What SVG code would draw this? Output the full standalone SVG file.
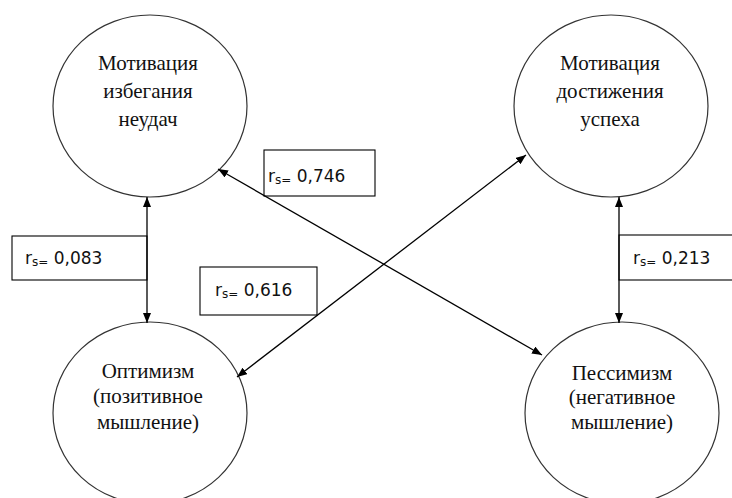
<svg xmlns="http://www.w3.org/2000/svg" width="732" height="498" viewBox="0 0 732 498">
<style>
.node ellipse{fill:#fff;stroke:#333;stroke-width:1.2}
.nt{font-family:"Liberation Serif","Times New Roman",serif;font-size:21px;fill:#111;text-anchor:middle}
.conn line{stroke:#000;stroke-width:1.3;fill:none}
.lbl rect{fill:#fff;stroke:#000;stroke-width:1.1}
.lt{font-family:"DejaVu Sans","Open Sans",sans-serif;font-size:17px;fill:#111}
.sub{font-size:12px}
</style>
<defs>
<marker id="ah" viewBox="0 0 10 8" refX="10" refY="4" markerWidth="10" markerHeight="8" markerUnits="userSpaceOnUse" orient="auto-start-reverse">
<path d="M0,0 L10,4 L0,8 z" fill="#000"/>
</marker>
</defs>
<rect width="732" height="498" fill="#fff"/>
<g id="n-avoid" class="node">
<ellipse cx="150" cy="106" rx="97" ry="91"/>
<text class="nt"><tspan x="148" y="70">Мотивация</tspan><tspan x="148" y="98">избегания</tspan><tspan x="148" y="126">неудач</tspan></text>
</g>
<g id="n-achieve" class="node">
<ellipse cx="611" cy="106" rx="97" ry="91"/>
<text class="nt"><tspan x="610" y="70">Мотивация</tspan><tspan x="610" y="98">достижения</tspan><tspan x="610" y="126">успеха</tspan></text>
</g>
<g id="n-optimism" class="node">
<ellipse cx="150" cy="413" rx="97" ry="91"/>
<text class="nt"><tspan x="148" y="378">Оптимизм</tspan><tspan x="148" y="403">(позитивное</tspan><tspan x="148" y="429">мышление)</tspan></text>
</g>
<g id="n-pessimism" class="node">
<ellipse cx="622" cy="413" rx="97" ry="91"/>
<text class="nt"><tspan x="622" y="380">Пессимизм</tspan><tspan x="622" y="404">(негативное</tspan><tspan x="622" y="429">мышление)</tspan></text>
</g>
<g id="labels" class="lbl">
<rect x="12" y="236" width="135" height="44"/>
<text class="lt" x="25" y="264">r<tspan class="sub" dy="2">s=</tspan><tspan dy="-2"> 0,083</tspan></text>
<rect x="619" y="235" width="125" height="45"/>
<text class="lt" x="633" y="264">r<tspan class="sub" dy="2">s=</tspan><tspan dy="-2"> 0,213</tspan></text>
<rect x="264" y="150" width="111" height="46"/>
<text class="lt" x="268" y="182">r<tspan class="sub" dy="2">s=</tspan><tspan dy="-2"> 0,746</tspan></text>
<rect x="200" y="267" width="117" height="48"/>
<text class="lt" x="215" y="296">r<tspan class="sub" dy="2">s=</tspan><tspan dy="-2"> 0,616</tspan></text>
</g>
<g id="connectors" class="conn">
<line x1="147" y1="197" x2="147" y2="323" marker-start="url(#ah)" marker-end="url(#ah)"/>
<line x1="619" y1="197" x2="619" y2="323" marker-start="url(#ah)" marker-end="url(#ah)"/>
<line x1="218" y1="169" x2="542" y2="355" marker-start="url(#ah)" marker-end="url(#ah)"/>
<line x1="526" y1="155" x2="237" y2="377" marker-start="url(#ah)" marker-end="url(#ah)"/>
</g>
</svg>
